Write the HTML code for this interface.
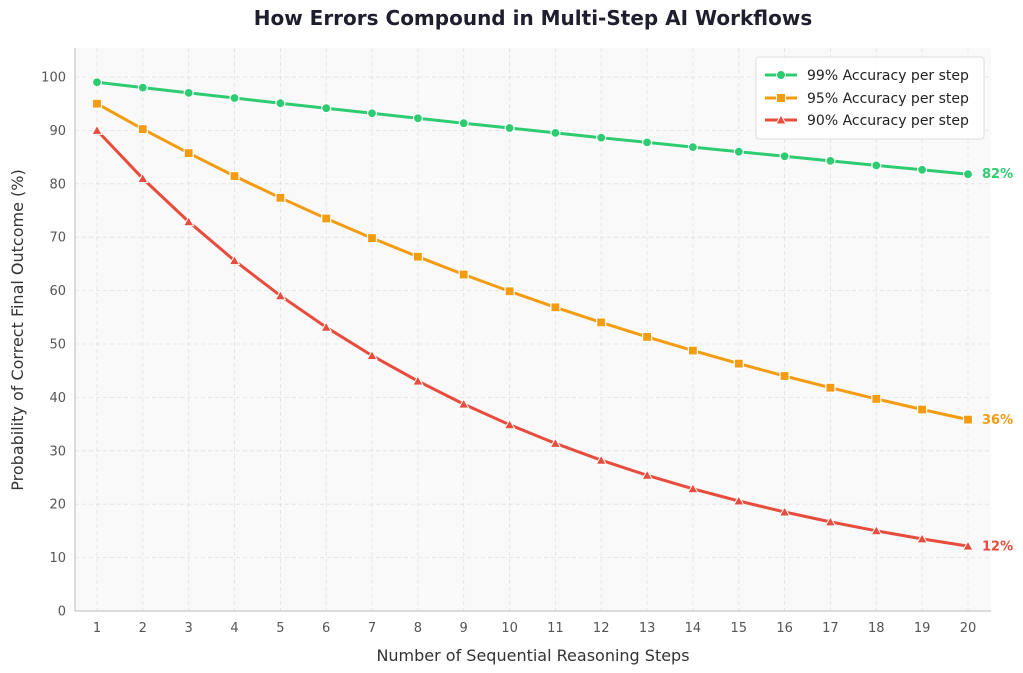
<!DOCTYPE html>
<html><head><meta charset="utf-8"><style>
html,body{margin:0;padding:0;background:#fff;}
svg{display:block;font-family:"DejaVu Sans","Liberation Sans",sans-serif;}
</style></head><body>
<svg width="1023" height="673" viewBox="0 0 1023 673" xmlns="http://www.w3.org/2000/svg">
<rect x="75" y="48" width="916" height="563" fill="#f9f9f9"/>
<g stroke="#e2e2e2" stroke-dasharray="4,3" stroke-width="0.8">
<line x1="75" x2="991" y1="557.6" y2="557.6"/><line x1="75" x2="991" y1="504.2" y2="504.2"/><line x1="75" x2="991" y1="450.8" y2="450.8"/><line x1="75" x2="991" y1="397.4" y2="397.4"/><line x1="75" x2="991" y1="344" y2="344"/><line x1="75" x2="991" y1="290.6" y2="290.6"/><line x1="75" x2="991" y1="237.2" y2="237.2"/><line x1="75" x2="991" y1="183.8" y2="183.8"/><line x1="75" x2="991" y1="130.4" y2="130.4"/><line x1="75" x2="991" y1="77" y2="77"/>
<line x1="97" x2="97" y1="48" y2="611"/><line x1="142.8" x2="142.8" y1="48" y2="611"/><line x1="188.7" x2="188.7" y1="48" y2="611"/><line x1="234.5" x2="234.5" y1="48" y2="611"/><line x1="280.4" x2="280.4" y1="48" y2="611"/><line x1="326.2" x2="326.2" y1="48" y2="611"/><line x1="372" x2="372" y1="48" y2="611"/><line x1="417.9" x2="417.9" y1="48" y2="611"/><line x1="463.7" x2="463.7" y1="48" y2="611"/><line x1="509.6" x2="509.6" y1="48" y2="611"/><line x1="555.4" x2="555.4" y1="48" y2="611"/><line x1="601.2" x2="601.2" y1="48" y2="611"/><line x1="647.1" x2="647.1" y1="48" y2="611"/><line x1="692.9" x2="692.9" y1="48" y2="611"/><line x1="738.8" x2="738.8" y1="48" y2="611"/><line x1="784.6" x2="784.6" y1="48" y2="611"/><line x1="830.4" x2="830.4" y1="48" y2="611"/><line x1="876.3" x2="876.3" y1="48" y2="611"/><line x1="922.1" x2="922.1" y1="48" y2="611"/><line x1="968" x2="968" y1="48" y2="611"/>
</g>
<line x1="75" y1="48" x2="75" y2="611" stroke="#bbb" stroke-width="1"/>
<line x1="75" y1="611" x2="991" y2="611" stroke="#bbb" stroke-width="1"/>
<g font-size="13" fill="#555" text-anchor="end">
<text x="66" y="615.5">0</text><text x="66" y="562">10</text><text x="66" y="508.7">20</text><text x="66" y="455.3">30</text><text x="66" y="401.9">40</text><text x="66" y="348.5">50</text><text x="66" y="295.1">60</text><text x="66" y="241.7">70</text><text x="66" y="188.3">80</text><text x="66" y="134.9">90</text><text x="66" y="81.5">100</text>
</g>
<g font-size="13" fill="#555" text-anchor="middle">
<text x="97" y="632">1</text><text x="142.8" y="632">2</text><text x="188.7" y="632">3</text><text x="234.5" y="632">4</text><text x="280.4" y="632">5</text><text x="326.2" y="632">6</text><text x="372" y="632">7</text><text x="417.9" y="632">8</text><text x="463.7" y="632">9</text><text x="509.6" y="632">10</text><text x="555.4" y="632">11</text><text x="601.2" y="632">12</text><text x="647.1" y="632">13</text><text x="692.9" y="632">14</text><text x="738.8" y="632">15</text><text x="784.6" y="632">16</text><text x="830.4" y="632">17</text><text x="876.3" y="632">18</text><text x="922.1" y="632">19</text><text x="968" y="632">20</text>
</g>
<text x="533" y="661" font-size="16" fill="#333" text-anchor="middle">Number of Sequential Reasoning Steps</text>
<text transform="translate(23,330) rotate(-90)" font-size="16" fill="#333" text-anchor="middle">Probability of Correct Final Outcome (%)</text>
<text x="533" y="25" font-size="20" font-weight="bold" fill="#1e1e2e" text-anchor="middle">How Errors Compound in Multi-Step AI Workflows</text>

<polyline fill="none" stroke="#2ecc71" stroke-width="3" points="97,82.3 142.8,87.6 188.7,92.9 234.5,98 280.4,103.2 326.2,108.2 372,113.3 417.9,118.3 463.7,123.2 509.6,128 555.4,132.9 601.2,137.7 647.1,142.4 692.9,147.1 738.8,151.7 784.6,156.3 830.4,160.9 876.3,165.4 922.1,169.8 968,174.2"/>
<g fill="#2ecc71" stroke="#fff" stroke-width="1.2">
<circle cx="97" cy="82.3" r="4.5"/><circle cx="142.8" cy="87.6" r="4.5"/><circle cx="188.7" cy="92.9" r="4.5"/><circle cx="234.5" cy="98" r="4.5"/><circle cx="280.4" cy="103.2" r="4.5"/><circle cx="326.2" cy="108.2" r="4.5"/><circle cx="372" cy="113.3" r="4.5"/><circle cx="417.9" cy="118.3" r="4.5"/><circle cx="463.7" cy="123.2" r="4.5"/><circle cx="509.6" cy="128" r="4.5"/><circle cx="555.4" cy="132.9" r="4.5"/><circle cx="601.2" cy="137.7" r="4.5"/><circle cx="647.1" cy="142.4" r="4.5"/><circle cx="692.9" cy="147.1" r="4.5"/><circle cx="738.8" cy="151.7" r="4.5"/><circle cx="784.6" cy="156.3" r="4.5"/><circle cx="830.4" cy="160.9" r="4.5"/><circle cx="876.3" cy="165.4" r="4.5"/><circle cx="922.1" cy="169.8" r="4.5"/><circle cx="968" cy="174.2" r="4.5"/>
</g>

<polyline fill="none" stroke="#f39c12" stroke-width="3" points="97,103.7 142.8,129.1 188.7,153.1 234.5,176.1 280.4,197.8 326.2,218.5 372,238.1 417.9,256.7 463.7,274.5 509.6,291.3 555.4,307.3 601.2,322.4 647.1,336.9 692.9,350.6 738.8,363.6 784.6,376 830.4,387.7 876.3,398.9 922.1,409.5 968,419.6"/>
<g fill="#f39c12" stroke="#fff" stroke-width="1.2">
<rect x="92.5" y="99.2" width="9" height="9"/><rect x="138.3" y="124.6" width="9" height="9"/><rect x="184.2" y="148.6" width="9" height="9"/><rect x="230" y="171.6" width="9" height="9"/><rect x="275.9" y="193.3" width="9" height="9"/><rect x="321.7" y="214" width="9" height="9"/><rect x="367.5" y="233.6" width="9" height="9"/><rect x="413.4" y="252.2" width="9" height="9"/><rect x="459.2" y="270" width="9" height="9"/><rect x="505.1" y="286.8" width="9" height="9"/><rect x="550.9" y="302.8" width="9" height="9"/><rect x="596.7" y="317.9" width="9" height="9"/><rect x="642.6" y="332.4" width="9" height="9"/><rect x="688.4" y="346.1" width="9" height="9"/><rect x="734.3" y="359.1" width="9" height="9"/><rect x="780.1" y="371.5" width="9" height="9"/><rect x="825.9" y="383.2" width="9" height="9"/><rect x="871.8" y="394.4" width="9" height="9"/><rect x="917.6" y="405" width="9" height="9"/><rect x="963.5" y="415.1" width="9" height="9"/>
</g>

<polyline fill="none" stroke="#e74c3c" stroke-width="3" points="97,130.4 142.8,178.5 188.7,221.7 234.5,260.6 280.4,295.7 326.2,327.2 372,355.6 417.9,381.1 463.7,404.1 509.6,424.8 555.4,443.4 601.2,460.2 647.1,475.3 692.9,488.8 738.8,501 784.6,512 830.4,521.9 876.3,530.8 922.1,538.9 968,546.1"/>
<g fill="#e74c3c" stroke="#fff" stroke-width="1">
<polygon points="97,125.4 102,134.4 92,134.4"/><polygon points="142.8,173.5 147.8,182.5 137.8,182.5"/><polygon points="188.7,216.7 193.7,225.7 183.7,225.7"/><polygon points="234.5,255.6 239.5,264.6 229.5,264.6"/><polygon points="280.4,290.7 285.4,299.7 275.4,299.7"/><polygon points="326.2,322.2 331.2,331.2 321.2,331.2"/><polygon points="372,350.6 377,359.6 367,359.6"/><polygon points="417.9,376.1 422.9,385.1 412.9,385.1"/><polygon points="463.7,399.1 468.7,408.1 458.7,408.1"/><polygon points="509.6,419.8 514.6,428.8 504.6,428.8"/><polygon points="555.4,438.4 560.4,447.4 550.4,447.4"/><polygon points="601.2,455.2 606.2,464.2 596.2,464.2"/><polygon points="647.1,470.3 652.1,479.3 642.1,479.3"/><polygon points="692.9,483.8 697.9,492.8 687.9,492.8"/><polygon points="738.8,496 743.8,505 733.8,505"/><polygon points="784.6,507 789.6,516 779.6,516"/><polygon points="830.4,516.9 835.4,525.9 825.4,525.9"/><polygon points="876.3,525.8 881.3,534.8 871.3,534.8"/><polygon points="922.1,533.9 927.1,542.9 917.1,542.9"/><polygon points="968,541.1 973,550.1 963,550.1"/>
</g>

<g font-size="13" font-weight="bold">
<text x="982" y="178" fill="#2ecc71">82%</text>
<text x="982" y="424" fill="#f39c12">36%</text>
<text x="982" y="550.5" fill="#e74c3c">12%</text>
</g>

<rect x="756" y="57" width="228" height="82" rx="3" fill="#fff" fill-opacity="0.9" stroke="#ddd"/>
<line x1="765" y1="75" x2="797" y2="75" stroke="#2ecc71" stroke-width="3"/><circle cx="781" cy="75" r="4.5" fill="#2ecc71" stroke="#fff"/>
<line x1="765" y1="98" x2="797" y2="98" stroke="#f39c12" stroke-width="3"/><rect x="776.5" y="93.5" width="9" height="9" fill="#f39c12" stroke="#fff"/>
<line x1="765" y1="120" x2="797" y2="120" stroke="#e74c3c" stroke-width="3"/><polygon points="781,115 786,124 776,124" fill="#e74c3c" stroke="#fff"/>
<g font-size="14" fill="#222">
<text x="807" y="80">99% Accuracy per step</text>
<text x="807" y="103">95% Accuracy per step</text>
<text x="807" y="125">90% Accuracy per step</text>
</g>
</svg>
</body></html>
